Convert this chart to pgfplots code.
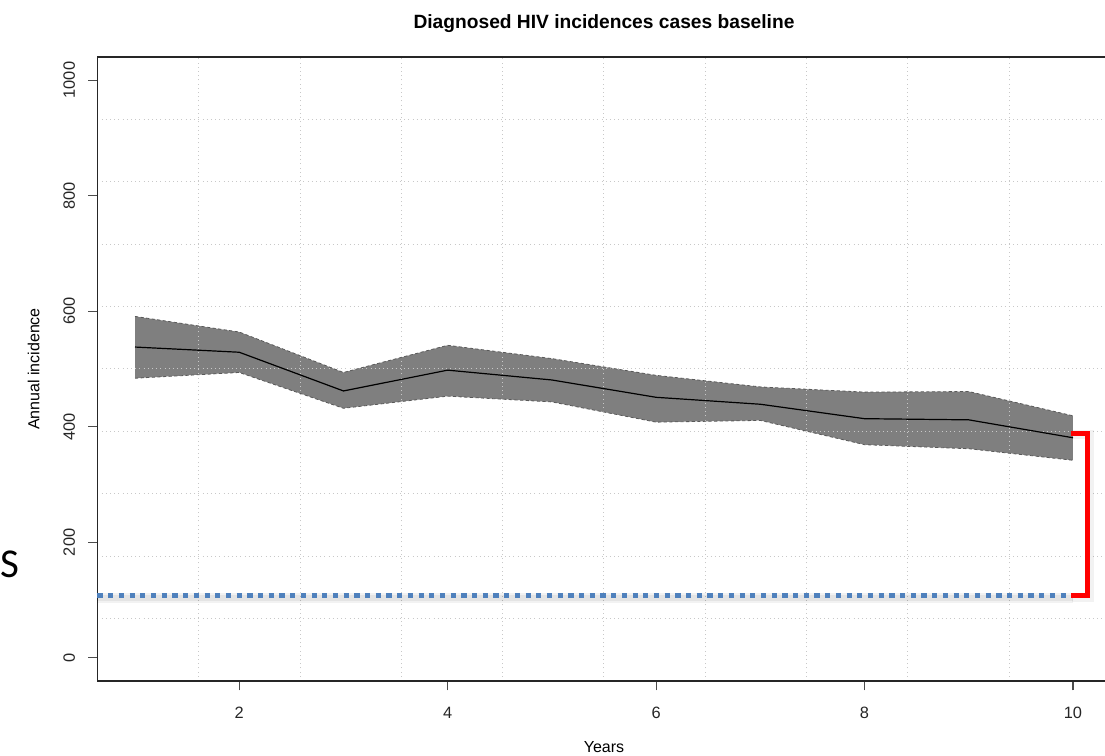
\documentclass[border=0pt]{standalone}
\usepackage{pgfplots}
\pgfplotsset{compat=1.18}
\usepackage{fontspec}
\setmainfont{Liberation Sans}
\newfontfamily\slidefont{Carlito}
\definecolor{bandgray}{HTML}{7F7F7F}
\definecolor{slideblue}{HTML}{4F81BD}
\definecolor{gridgray}{HTML}{C8C8C8}
\begin{document}
\begin{tikzpicture}
\begin{axis}[
  at={(0pt,0pt)}, anchor=south west,
  scale only axis, width=506.5pt, height=312pt,
  xmin=0.64, xmax=10.36, ymin=-40, ymax=1040,
  set layers, clip=false,
  axis line style={line width=0.6pt, black!85},
  tick align=outside, tick pos=left,
  major tick length=4.7pt,
  every tick/.style={black!70, line width=0.6pt},
  xtick={2,4,6,8,10}, ytick={0,200,400,600,800,1000},
  /pgf/number format/1000 sep={},
  /pgf/number format/assume math mode=true,
  tick label style={font=\fontsize{8.2}{9.8}\selectfont, inner sep=0pt, text=black!85},
  xticklabel style={anchor=base, yshift=-14pt},
  yticklabel style={xshift=-6.6pt, rotate=90, anchor=base},
  extra x ticks={1.612,2.584,3.556,4.528,5.5,6.472,7.444,8.416,9.388},
  extra y ticks={68,176,284,392,500,608,716,824,932},
  extra x tick labels={}, extra y tick labels={},
  extra tick style={grid=major, major tick length=0pt,
    major grid style={gridgray, line width=0.5pt, dash pattern=on 0.5pt off 1.6pt}},
  title={\bfseries Diagnosed HIV incidences cases baseline},
  title style={font=\fontsize{9.6}{11.5}\selectfont, at={(axis description cs:0.5,1.0257)}, anchor=base, inner sep=0pt},
  xlabel={Years},
  xlabel style={font=\fontsize{8}{9.6}\selectfont, at={(axis description cs:0.5,-0.1138)}, anchor=base, inner sep=0pt},
  ylabel={Annual incidence},
  ylabel style={font=\fontsize{8}{9.6}\selectfont, at={(axis description cs:-0.05726,0.5)}, anchor=base, inner sep=0pt},
]
% uncertainty band
\addplot[fill=bandgray, draw=none, on layer=axis background, forget plot] coordinates {
  (1,591) (2,564) (3,494) (4,541) (5,518) (6,489) (7,469) (8,460) (9,461) (10,419)
  (10,342) (9,362) (8,369) (7,411) (6,408) (5,443) (4,453) (3,432) (2,494) (1,484)
} -- cycle;
% band edges
\addplot[black!65, line width=0.4pt, dash pattern=on 1.6pt off 1.2pt] coordinates {
  (1,591) (2,564) (3,494) (4,541) (5,518) (6,489) (7,469) (8,460) (9,461) (10,419)};
\addplot[black!65, line width=0.4pt, dash pattern=on 1.6pt off 1.2pt] coordinates {
  (1,484) (2,494) (3,432) (4,453) (5,443) (6,408) (7,411) (8,369) (9,362) (10,342)};
% mean
\addplot[black, line width=0.6pt] coordinates {
  (1,538) (2,529) (3,462) (4,498) (5,481) (6,451) (7,439) (8,414) (9,412) (10,381)};
% soft shadows
\addplot[black, opacity=0.05, line width=5pt] coordinates {(0.64,103) (10.0,103)};
\addplot[black, opacity=0.06, line width=3pt] coordinates {(0.64,104.5) (10.0,104.5)};
\addplot[black, opacity=0.05, line width=4.5pt, line join=miter] coordinates {(9.99,386) (10.155,386) (10.155,104) (9.99,104)};
% target line and gap bracket
\addplot[slideblue, line width=2.6pt, dash pattern=on 2.6pt off 2.75pt] coordinates {(0.64,108) (10,108)};
\addplot[red, line width=2.5pt, line join=miter] coordinates {(9.98,389) (10.14,389) (10.14,108) (9.98,108)};
\end{axis}
\node[anchor=base west, inner sep=0pt, font=\slidefont\fontsize{20.5}{24}\selectfont] at (-48.9pt,51.5pt) {S};
\pgfresetboundingbox
\path[use as bounding box] (-48.75pt,-37.5pt) rectangle (503.75pt,340.5pt);
\end{tikzpicture}
\end{document}
